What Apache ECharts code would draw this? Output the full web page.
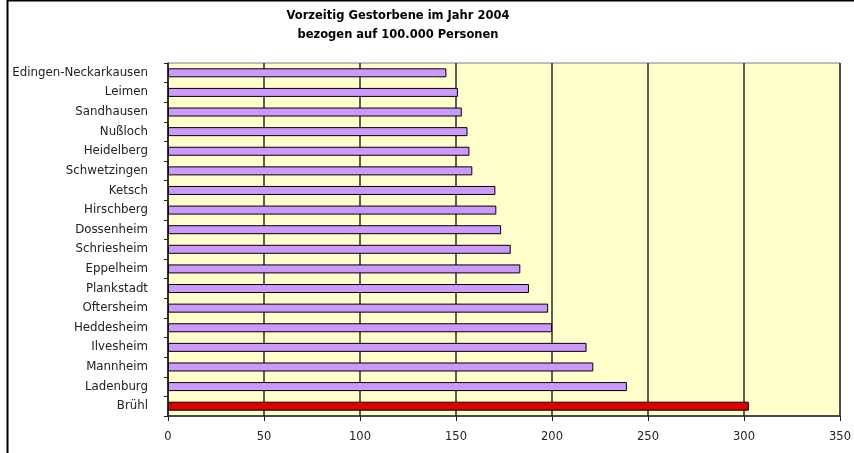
<!DOCTYPE html>
<html>
<head>
<meta charset="utf-8">
<script src="https://cdn.jsdelivr.net/npm/echarts@6/dist/echarts.min.js"></script>
<style>
  html, body { margin: 0; padding: 0; background: #fff; }
  #main { width: 854px; height: 453px; }
</style>
</head>
<body>
<div id="main"></div>
<script>
// Orte, von oben nach unten
var towns = ['Edingen-Neckarkausen', 'Leimen', 'Sandhausen', 'Nußloch', 'Heidelberg',
    'Schwetzingen', 'Ketsch', 'Hirschberg', 'Dossenheim', 'Schriesheim', 'Eppelheim',
    'Plankstadt', 'Oftersheim', 'Heddesheim', 'Ilvesheim', 'Mannheim', 'Ladenburg', 'Brühl'];
var deaths = [145, 151, 153, 156, 157, 158.5, 170.5, 171, 173.5, 178.5, 183.5,
    188, 198, 200, 218, 221.5, 239, 302.5];
var highlight = 'Brühl';
var xTicks = [0, 50, 100, 150, 200, 250, 300, 350];

var font = 'DejaVu Sans, Verdana, sans-serif';
var myChart = echarts.init(document.getElementById('main'));

myChart.setOption({
    animation: false,
    backgroundColor: '#fff',
    title: {
        text: 'Vorzeitig Gestorbene im Jahr 2004\nbezogen auf 100.000 Personen',
        left: 393,
        top: 2,
        textAlign: 'center',
        textStyle: {
            fontFamily: font,
            fontSize: 11.5,
            fontWeight: 'bold',
            color: '#000',
            lineHeight: 19
        }
    },
    grid: {
        left: 168,
        right: 14,
        top: 63,
        bottom: 37,
        show: true,
        backgroundColor: '#FFFFCC',
        borderColor: '#808080',
        borderWidth: 1
    },
    xAxis: {
        type: 'value',
        min: xTicks[0],
        max: xTicks[xTicks.length - 1],
        interval: 50,
        axisLine: { show: true, lineStyle: { color: '#222', width: 1.5 } },
        axisTick: { show: true, length: 5, lineStyle: { color: '#222' } },
        axisLabel: {
            margin: 15,
            fontFamily: font,
            fontSize: 11.5,
            color: '#222'
        },
        splitLine: { show: true, lineStyle: { color: '#2a2a2a', width: 1.5 } }
    },
    yAxis: {
        type: 'category',
        inverse: true,
        data: towns,
        axisLine: { show: true, lineStyle: { color: '#222', width: 1.5 } },
        axisTick: { show: true, length: 4, lineStyle: { color: '#222' } },
        axisLabel: {
            margin: 20,
            fontFamily: font,
            fontSize: 11.8,
            color: '#222'
        }
    },
    series: [{
        name: 'Vorzeitig Gestorbene',
        type: 'bar',
        barWidth: 9,
        data: deaths.map(function (v, i) {
            return {
                value: v,
                itemStyle: {
                    color: towns[i] === highlight ? '#DD0000' : '#CC99FF'
                }
            };
        }),
        itemStyle: {
            borderColor: '#000',
            borderWidth: 1
        }
    }],
    graphic: [{
        type: 'line',
        shape: { x1: 7, y1: 0.5, x2: 854, y2: 0.5 },
        style: { stroke: '#000', lineWidth: 2 }
    }, {
        type: 'line',
        shape: { x1: 7.5, y1: 0, x2: 7.5, y2: 453 },
        style: { stroke: '#000', lineWidth: 2 }
    }]
});
</script>
</body>
</html>
